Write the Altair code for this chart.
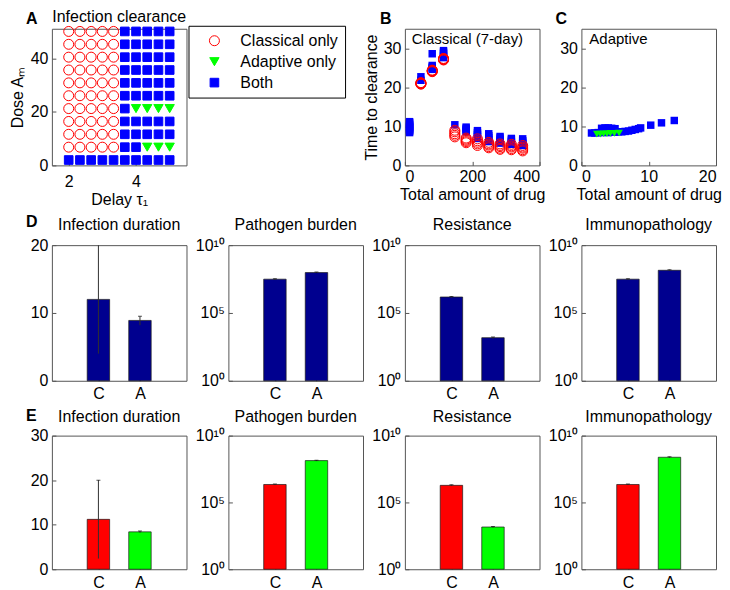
import altair as alt
import pandas as pd

FONT = "Liberation Sans"
NAVY = "#00008F"
BLUE = "#0000FF"
RED = "#FF0000"
GREEN = "#00FF00"

# ---------------- Panel A: outcome grid ----------------
delay_values = [2.0, 2.333, 2.667, 3.0, 3.333, 3.667, 4.0, 4.333, 4.667, 5.0]
dose_values = [2.0, 6.8, 11.6, 16.4, 21.2, 26.0, 30.8, 35.6, 40.4, 45.2, 50.0]
# one string per dose (bottom to top), one letter per delay: C classical only, A adaptive only, B both
outcome_rows = [
    "BBBBBBBBBB",
    "CCCCCBBAAA",
    "CCCCCBBBBB",
    "CCCCCBBBBB",
    "CCCCCBAAAA",
    "CCCCCBBBBB",
    "CCCCCBBBBB",
    "CCCCCBBBBB",
    "CCCCCBBBBB",
    "CCCCCBBBBB",
    "CCCCCBBBBB",
]
outcome_names = ["Classical only", "Adaptive only", "Both"]
code_to_name = {"C": "Classical only", "A": "Adaptive only", "B": "Both"}

# ---------------- Panel B: classical (7-day) ----------------
classical_total = [14.0, 47.6, 81.2, 114.8, 148.4, 182.0, 215.6, 249.2, 282.8, 316.4, 350.0]
classical_both_time = [
    [11.2, 10.9, 10.5, 10.2, 9.9, 9.6, 9.3, 9.0, 8.7, 8.4],
    [22.7, 21.8],
    [28.6, 25.6, 25.2, 24.9, 24.6],
    [29.4, 29.0, 28.6, 28.0, 27.6],
    [10.4],
    [9.8, 9.5, 9.2, 8.9, 8.6],
    [8.9, 8.4, 7.9, 7.4, 6.9],
    [8.1, 7.6, 7.1, 6.6, 6.1],
    [7.4, 7.0, 6.5, 6.1, 5.7],
    [6.9, 6.5, 6.1, 5.7, 5.4],
    [6.8, 6.3, 5.9, 5.5, 5.1],
]
classical_only_time = [
    [],
    [20.8, 20.9, 21.0, 21.1, 21.2],
    [24.0, 24.1, 24.2, 24.3, 24.4],
    [27.0, 27.1, 27.2, 27.3, 27.4],
    [7.3, 7.7, 8.1, 8.6, 9.0],
    [5.8, 6.1, 6.4, 6.7, 7.0],
    [5.1, 5.5, 5.9, 6.3, 6.8],
    [4.5, 4.8, 5.2, 5.5, 5.9],
    [4.1, 4.4, 4.8, 5.1, 5.5],
    [4.0, 4.3, 4.7, 5.0, 5.4],
    [3.7, 4.0, 4.4, 4.7, 5.1],
]

# ---------------- Panel C: adaptive ----------------
adaptive_both_total = [1.5, 2.0, 2.5, 3.0, 3.0, 3.5, 4.0, 4.0, 4.5, 5.0, 5.0, 5.5,
                       6.0, 6.5, 7.0, 7.5, 8.0, 8.5, 8.8, 10.3, 11.9, 13.8]
adaptive_both_time = [8.3, 8.3, 8.4, 9.5, 8.4, 9.6, 9.6, 8.4, 9.5, 9.4, 8.5, 8.6,
                      8.6, 8.7, 8.8, 9.0, 9.2, 9.4, 9.6, 10.3, 10.9, 11.5]
adaptive_only_total = [2.3, 2.8, 3.3, 3.8, 4.3, 4.9, 5.6]
adaptive_only_time = [8.0, 8.0, 8.1, 8.1, 8.2, 8.2, 8.3]

# ---------------- Panels D and E: bars ----------------
metric_titles = ["Infection duration", "Pathogen burden", "Resistance", "Immunopathology"]
group_labels = ["C", "A"]
group_pos = [1, 2]
d_values = [[12.0, 8.9], [3.1e7, 9.5e7], [1.5e6, 1.5e3], [3.1e7, 1.4e8]]
d_low = [[4.0, 8.2], [2.8e7, 8.8e7], [1.35e6, 1.3e3], [2.8e7, 1.3e8]]
d_high = [[25.0, 9.5], [3.4e7, 1.05e8], [1.65e6, 1.7e3], [3.4e7, 1.55e8]]
e_values = [[11.2, 8.4], [2.2e6, 1.35e8], [1.9e6, 1.45e3], [2.2e6, 2.4e8]]
e_low = [[2.4, 8.2], [2.0e6, 1.25e8], [1.7e6, 1.3e3], [2.0e6, 2.2e8]]
e_high = [[20.0, 8.6], [2.4e6, 1.45e8], [2.1e6, 1.6e3], [2.4e6, 2.6e8]]
d_colors = [NAVY, NAVY]
e_colors = [RED, GREEN]

panel_letters = ["A", "B", "C", "D", "E"]


def letter_layer(ch, x, y):
    return alt.Chart(alt.Data(values=[{"label": ch}])).mark_text(
        font=FONT, fontSize=16, fontWeight="bold", align="left",
        baseline="alphabetic", color="black"
    ).encode(text="label:N", x=alt.value(x), y=alt.value(y))


def note_layer(txt, x, y):
    return alt.Chart(alt.Data(values=[{"label": txt}])).mark_text(
        font=FONT, fontSize=15, align="left", baseline="alphabetic", color="black"
    ).encode(text="label:N", x=alt.value(x), y=alt.value(y))


# ---- A ----
rows = []
for dose, code_row in zip(dose_values, outcome_rows):
    for delay, code in zip(delay_values, code_row):
        rows.append({"delay": delay, "dose": dose, "outcome": code_to_name[code]})
dfA = pd.DataFrame(rows)

legA = alt.Legend(
    title=None, orient="none", legendX=137, legendY=-3,
    strokeColor="black", fillColor="white", padding=7,
    labelFont=FONT, labelFontSize=16, labelColor="black",
    symbolStrokeWidth=1, rowPadding=5, symbolOffset=11, labelOffset=18,
    labelLimit=200,
)
scatterA = alt.Chart(dfA).mark_point(filled=True, opacity=1, strokeWidth=1).encode(
    x=alt.X("delay:Q", scale=alt.Scale(domain=[1.5, 5.5], nice=False, zero=False),
            axis=alt.Axis(values=[2, 4], title="Delay τ₁", labelPadding=8, titlePadding=2)),
    y=alt.Y("dose:Q", scale=alt.Scale(domain=[0, 51], nice=False),
            axis=alt.Axis(values=[0, 20, 40], title="Dose Aₘ", titlePadding=5)),
    shape=alt.Shape("outcome:N", scale=alt.Scale(domain=outcome_names,
                    range=["circle", "triangle-down", "square"]), legend=legA),
    fill=alt.Fill("outcome:N", scale=alt.Scale(domain=outcome_names,
                  range=["transparent", GREEN, BLUE]), legend=legA),
    stroke=alt.Stroke("outcome:N", scale=alt.Scale(domain=outcome_names,
                      range=[RED, GREEN, BLUE]), legend=legA),
    size=alt.Size("outcome:N", scale=alt.Scale(domain=outcome_names,
                  range=[100, 75, 64]), legend=legA),
)
chartA = scatterA.properties(
    width=135, height=137,
    title=alt.TitleParams("Infection clearance", offset=-1),
)

# empty grid cell: sets the gap between the first and second rows and carries the panel letters
# (its origin is at the second column, top of row one)
letter_offsets = {"A": (-203, -5), "B": (152, -5), "C": (328, -5), "D": (-203, 198.5), "E": (-203, 393.5)}
spacer_base = alt.Chart(alt.Data(values=[{"label": ""}])).mark_text(opacity=0).encode(
    text="label:N", x=alt.value(0), y=alt.value(0)
)
spacer = alt.layer(
    spacer_base, *[letter_layer(ch, *letter_offsets[ch]) for ch in panel_letters]
).properties(width=135, height=161.5, view=alt.ViewBackground(stroke="transparent"))

# ---- B ----
rows_b_both, rows_b_cl = [], []
for tot, ys in zip(classical_total, classical_both_time):
    for yv in ys:
        rows_b_both.append({"total": tot, "time": yv})
for tot, ys in zip(classical_total, classical_only_time):
    for yv in ys:
        rows_b_cl.append({"total": tot, "time": yv})
dfB_both = pd.DataFrame(rows_b_both)
dfB_cl = pd.DataFrame(rows_b_cl)

xB = alt.X("total:Q", scale=alt.Scale(domain=[0, 400], nice=False),
           axis=alt.Axis(values=[0, 200, 400], title="Total amount of drug", labelPadding=3, titlePadding=2))
yB = alt.Y("time:Q", scale=alt.Scale(domain=[0, 35], nice=False),
           axis=alt.Axis(values=[0, 10, 20, 30], title="Time to clearance", titlePadding=4))
bBoth = alt.Chart(dfB_both).mark_point(shape="square", filled=True, color=BLUE, size=56, opacity=1).encode(x=xB, y=yB)
bCl = alt.Chart(dfB_cl).mark_point(shape="circle", filled=False, color=RED, size=100, opacity=1, strokeWidth=1).encode(x=xB, y=yB)
chartB = alt.layer(bBoth, bCl, note_layer("Classical (7-day)", 7, 15)).properties(width=135, height=137)

# ---- C ----
dfC_both = pd.DataFrame({"total": adaptive_both_total, "time": adaptive_both_time})
dfC_ad = pd.DataFrame({"total": adaptive_only_total, "time": adaptive_only_time})
xC = alt.X("total:Q", scale=alt.Scale(domain=[0, 20], nice=False),
           axis=alt.Axis(values=[0, 10, 20], title="Total amount of drug", labelPadding=3, titlePadding=2))
yC = alt.Y("time:Q", scale=alt.Scale(domain=[0, 35], nice=False),
           axis=alt.Axis(values=[0, 10, 20, 30], title=None))
cBoth = alt.Chart(dfC_both).mark_point(shape="square", filled=True, color=BLUE, size=56, opacity=1).encode(x=xC, y=yC)
cAd = alt.Chart(dfC_ad).mark_point(shape="triangle-down", filled=True, color=GREEN, size=60, opacity=1).encode(x=xC, y=yC)
chartC = alt.layer(cBoth, cAd, note_layer("Adaptive", 8, 15)).properties(width=135, height=137)


# ---- D / E bar panels ----
def bar_panel(title, vals, lo, hi, colors, log, height, lin_max=None, lin_ticks=None, title_offset=9):
    df = pd.DataFrame({
        "pos": group_pos, "grp": group_labels, "v": vals, "lo": lo, "hi": hi,
        "col": colors, "base": [1.0 if log else 0.0] * 2,
    })
    if log:
        yscale = alt.Scale(type="log", domain=[1, 1e10], nice=False)
        yaxis = alt.Axis(values=[1, 1e5, 1e10], title=None, labelOverlap=False,
                         labelExpr="datum.value < 10 ? '10⁰' : (datum.value < 1e6 ? '10⁵' : '10¹⁰')")
    else:
        yscale = alt.Scale(domain=[0, lin_max], nice=False)
        yaxis = alt.Axis(values=lin_ticks, title=None, labelOverlap=False)
    x = alt.X("pos:Q", scale=alt.Scale(domain=[0, 3], nice=False),
              axis=alt.Axis(values=[1, 2], title=None, labelPadding=5,
                            labelExpr="datum.value == 1 ? 'C' : 'A'"))
    bars = alt.Chart(df).mark_bar(size=22.5, stroke="#1a1a1a", strokeWidth=0.7).encode(
        x=x, y=alt.Y("v:Q", scale=yscale, axis=yaxis), y2="base:Q",
        color=alt.Color("col:N", scale=None),
    )
    err = alt.Chart(df).mark_rule(color="#303030", strokeWidth=1, clip=True).encode(
        x="pos:Q", y="lo:Q", y2="hi:Q")
    cap = alt.Chart(df).mark_tick(orient="horizontal", size=4, thickness=1, color="#101010", clip=True).encode(
        x="pos:Q", y="hi:Q")
    return alt.layer(bars, err, cap).properties(
        width=135, height=height,
        title=alt.TitleParams(title, offset=title_offset),
    )


d_panels = []
e_panels = []
for i, t in enumerate(metric_titles):
    is_log = i > 0
    d_panels.append(bar_panel(t, d_values[i], d_low[i], d_high[i], d_colors, is_log, 136,
                              lin_max=20, lin_ticks=[0, 5, 10, 15, 20], title_offset=4))
    e_panels.append(bar_panel(t, e_values[i], e_low[i], e_high[i], e_colors, is_log, 134,
                              lin_max=30, lin_ticks=[0, 10, 20, 30], title_offset=3))

ind = dict(shape="independent", fill="independent", stroke="independent", size="independent")

chart = alt.concat(
    chartA, spacer, chartB, chartC, *d_panels, *e_panels,
    columns=4, spacing={"row": 55, "column": 42}, bounds="flush",
).resolve_scale(**ind).properties(
    padding=0, background="white"
).configure_view(
    stroke="#555555", strokeWidth=1
).configure_axis(
    labelFont=FONT, labelFontSize=16, labelColor="black",
    titleFont=FONT, titleFontSize=16, titleFontWeight="normal", titleColor="black",
    domain=False, grid=False, ticks=True, tickSize=4, tickColor="#555555",
    offset=-4, labelPadding=4,
).configure_title(
    font=FONT, fontSize=16, fontWeight="normal", color="black"
)

chart.save("out.html", embed_options={"renderer": "svg", "actions": False})
